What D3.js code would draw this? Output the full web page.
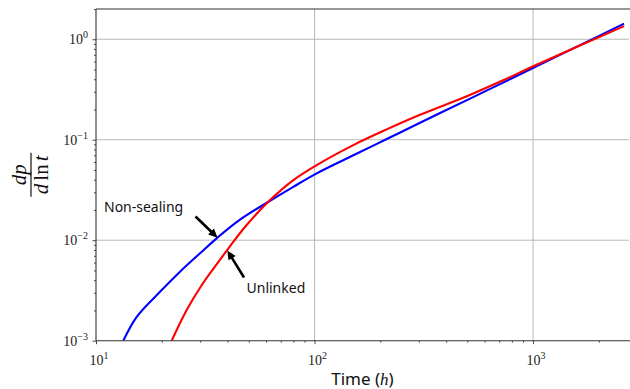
<!DOCTYPE html>
<html>
<head>
<meta charset="utf-8">
<script src="https://cdn.jsdelivr.net/npm/d3@7/dist/d3.min.js"></script>
<style>
  html, body { margin: 0; padding: 0; background: #fff; }
  svg { display: block; }
</style>
</head>
<body>
<svg id="chart" width="630" height="389"></svg>
<script>
// Pressure derivative vs. time for two fault models
const blueTime = [13.33, 15.36, 19.63, 24.23, 29.92, 35.67, 45.6, 62.6, 80.0, 102.3, 150.5, 214, 304, 504, 721, 1076, 2610];
const blueDeriv = [0.00100, 0.00173, 0.00307, 0.00486, 0.00741, 0.01044, 0.0160, 0.0247, 0.0340, 0.0463, 0.0700, 0.1016, 0.1476, 0.251, 0.366, 0.560, 1.43];
const redTime = [22.2, 26.0, 30.5, 35.0, 41.1, 48.9, 62.6, 80.0, 102.3, 150.5, 214, 304, 504, 721, 1038, 2610];
const redDeriv = [0.00100, 0.00202, 0.00358, 0.00545, 0.00875, 0.01416, 0.0251, 0.0397, 0.0560, 0.0885, 0.1268, 0.177, 0.274, 0.386, 0.558, 1.35];
const xMajorTicks = [10, 100, 1000];
const yMajorTicks = [0.001, 0.01, 0.1, 1];
const xTickExps = ["1", "2", "3"];
const yTickExps = ["\u22123", "\u22122", "\u22121", "0"];
const seriesNames = ["Non-sealing", "Unlinked"];

const svg = d3.select("#chart");
const plotLeft = 96, plotRight = 629, plotTop = 9, plotBottom = 340.7;

const x = d3.scaleLog().domain([10, Math.pow(10, 3.439)]).range([plotLeft, plotRight]);
const y = d3.scaleLog().domain([0.001, 2]).range([plotBottom, plotTop]);

const serif = "'Liberation Serif', 'DejaVu Serif', serif";
const sans = "'Noto Sans', 'Open Sans', sans-serif";

// minor tick positions
function minors(lo, hi) {
  const out = [];
  for (let e = Math.floor(Math.log10(lo)); e <= Math.ceil(Math.log10(hi)); e++) {
    for (let k = 2; k <= 9; k++) {
      const v = k * Math.pow(10, e);
      if (v >= lo && v <= hi) out.push(v);
    }
  }
  return out;
}
const xMinor = minors(x.domain()[0], x.domain()[1]);
const yMinor = minors(y.domain()[0], y.domain()[1]);

// grid
const grid = svg.append("g").attr("stroke", "#b0b0b0").attr("stroke-width", 0.9);
grid.selectAll(".gx").data(xMajorTicks.filter(d => d > 10)).join("line")
  .attr("x1", d => x(d)).attr("x2", d => x(d)).attr("y1", plotTop).attr("y2", plotBottom);
grid.selectAll(".gy").data(yMajorTicks.filter(d => d > 0.001)).join("line")
  .attr("y1", d => y(d)).attr("y2", d => y(d)).attr("x1", plotLeft).attr("x2", plotRight);

// curves
svg.append("clipPath").attr("id", "plotclip").append("rect")
  .attr("x", plotLeft).attr("y", plotTop).attr("width", plotRight - plotLeft).attr("height", plotBottom - plotTop);
const line = d3.line().x(d => x(d[0])).y(d => y(d[1])).curve(d3.curveCatmullRom.alpha(0.5));
const plot = svg.append("g").attr("clip-path", "url(#plotclip)");
plot.append("path").datum(blueTime.map((t, i) => [t, blueDeriv[i]]))
  .attr("d", line).attr("fill", "none").attr("stroke", "#0000ff").attr("stroke-width", 2.1);
plot.append("path").datum(redTime.map((t, i) => [t, redDeriv[i]]))
  .attr("d", line).attr("fill", "none").attr("stroke", "#ff0000").attr("stroke-width", 2.1);

// axes
const xAxis = d3.axisBottom(x).tickValues(xMajorTicks).tickSize(3.5).tickFormat("");
const xAxisMinor = d3.axisBottom(x).tickValues(xMinor).tickSize(2).tickFormat("");
const yAxis = d3.axisLeft(y).tickValues(yMajorTicks).tickSize(3.5).tickFormat("");
const yAxisMinor = d3.axisLeft(y).tickValues(yMinor).tickSize(2).tickFormat("");
function styleAxis(g) {
  g.select(".domain").remove();
  g.selectAll(".tick line").attr("stroke", "#333").attr("stroke-width", 0.9);
}
svg.append("g").attr("transform", `translate(0,${plotBottom})`).call(xAxis).call(styleAxis);
svg.append("g").attr("transform", `translate(0,${plotBottom})`).call(xAxisMinor).call(styleAxis);
svg.append("g").attr("transform", `translate(${plotLeft},0)`).call(yAxis).call(styleAxis);
svg.append("g").attr("transform", `translate(${plotLeft},0)`).call(yAxisMinor).call(styleAxis);

// spines (the right one falls outside the frame)
const spines = svg.append("g").attr("stroke", "#333").attr("stroke-width", 1.1).attr("fill", "none");
spines.append("line").attr("x1", plotLeft).attr("x2", plotLeft).attr("y1", plotTop).attr("y2", plotBottom);
spines.append("line").attr("x1", plotLeft).attr("x2", 630).attr("y1", plotBottom).attr("y2", plotBottom);
spines.append("line").attr("x1", plotLeft).attr("x2", 630).attr("y1", plotTop).attr("y2", plotTop);

// tick labels with superscript exponents
function powerLabel(sel, exp) {
  sel.append("tspan").text("10");
  sel.append("tspan").attr("dy", -6).attr("font-size", 10).text(exp);
}
xMajorTicks.forEach((v, i) => {
  const t = svg.append("text").attr("x", x(v) + 3).attr("y", 365)
    .attr("text-anchor", "middle").attr("font-family", serif).attr("font-size", 14).attr("fill", "#222");
  powerLabel(t, xTickExps[i]);
});
yMajorTicks.forEach((v, i) => {
  const t = svg.append("text").attr("x", 88).attr("y", y(v) + 5)
    .attr("text-anchor", "end").attr("font-family", serif).attr("font-size", 14).attr("fill", "#222");
  powerLabel(t, yTickExps[i]);
});

// x label
const xl = svg.append("text").attr("x", (plotLeft + plotRight) / 2).attr("y", 385)
  .attr("text-anchor", "middle").attr("font-family", sans).attr("font-size", 17).attr("fill", "#111");
xl.append("tspan").text("Time (");
xl.append("tspan").attr("font-family", serif).attr("font-style", "italic").text("h");
xl.append("tspan").text(")");

// y label: fraction dp / d ln t, rotated
const yl = svg.append("g").attr("transform", `translate(31,${(plotTop + plotBottom) / 2}) rotate(-90)`);
yl.append("text").attr("x", 0).attr("y", -5).attr("text-anchor", "middle")
  .attr("font-family", serif).attr("font-style", "italic").attr("font-size", 21).attr("fill", "#111")
  .text("dp");
yl.append("line").attr("x1", -22).attr("x2", 22).attr("y1", 0).attr("y2", 0)
  .attr("stroke", "#111").attr("stroke-width", 1.2);
const den = yl.append("text").attr("x", 0).attr("y", 17).attr("text-anchor", "middle")
  .attr("font-family", serif).attr("font-size", 21).attr("fill", "#111");
den.append("tspan").attr("font-style", "italic").text("d");
den.append("tspan").attr("dx", 3).text("ln");
den.append("tspan").attr("dx", 3).attr("font-style", "italic").text("t");

// annotations with filled arrows
function arrow(x0, y0, x1, y1) {
  const dx = x1 - x0, dy = y1 - y0, len = Math.hypot(dx, dy);
  const ux = dx / len, uy = dy / len, px = -uy, py = ux;
  const hl = 9, hw = 4.2, sw = 1.3;
  const bx = x1 - ux * hl, by = y1 - uy * hl;
  const pts = [
    [x0 + px * sw, y0 + py * sw], [bx + px * sw, by + py * sw], [bx + px * hw, by + py * hw],
    [x1, y1],
    [bx - px * hw, by - py * hw], [bx - px * sw, by - py * sw], [x0 - px * sw, y0 - py * sw]
  ];
  svg.append("path").attr("d", "M" + pts.map(p => p.join(",")).join("L") + "Z").attr("fill", "#000");
}
// Non-sealing: points at the blue curve near t≈36
arrow(195.5, 216.5, x(36), y(0.0106));
svg.append("text").attr("x", 104).attr("y", 211.5).attr("font-family", sans).attr("font-size", 14)
  .attr("fill", "#111").text(seriesNames[0]);
// Unlinked: points at the red curve near t≈40
arrow(244, 277.5, x(39.9), y(0.0079));
svg.append("text").attr("x", 246.5).attr("y", 293).attr("font-family", sans).attr("font-size", 14)
  .attr("fill", "#111").text(seriesNames[1]);
</script>
</body>
</html>
